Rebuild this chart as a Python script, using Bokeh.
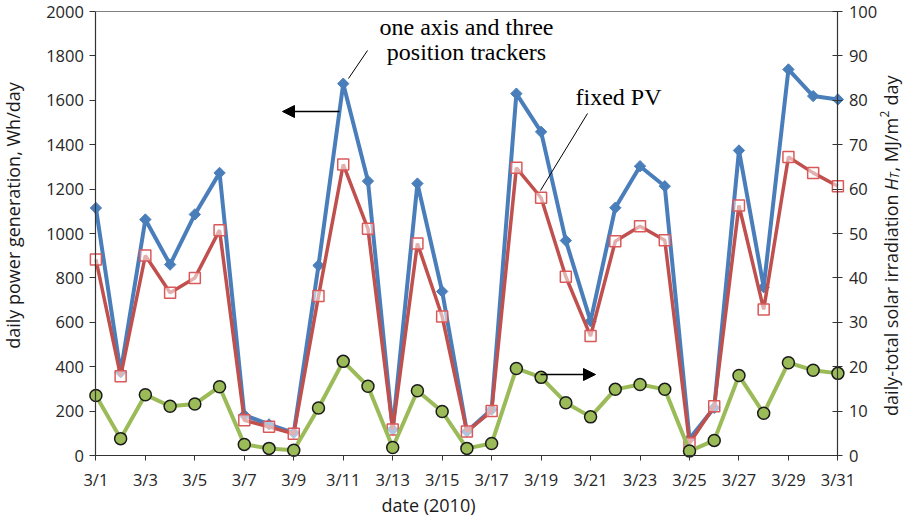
import math
from bokeh.plotting import figure
from bokeh.models import Range1d, LinearAxis, FixedTicker, Label, Arrow, NormalHead
from bokeh.embed import file_html
from bokeh.resources import INLINE

# ---------------- data ----------------
days = [1, 2, 3, 4, 5, 6, 7, 8, 9, 10, 11, 12, 13, 14, 15, 16,
        17, 18, 19, 20, 21, 22, 23, 24, 25, 26, 27, 28, 29, 30, 31]
trackers = [1115, 375, 1063, 860, 1086, 1273, 182, 140, 102, 856, 1675, 1236, 117, 1225, 739, 108,
            207, 1630, 1458, 968, 605, 1116, 1303, 1213, 75, 215, 1374, 758, 1739, 1619, 1604]
fixed_pv = [883, 357, 901, 733, 800, 1015, 159, 129, 98, 718, 1311, 1021, 117, 955, 626, 108,
            200, 1296, 1161, 805, 538, 965, 1033, 970, 55, 222, 1126, 658, 1345, 1273, 1213]
irradiation = [13.5, 3.8, 13.7, 11.1, 11.6, 15.5, 2.5, 1.6, 1.2, 10.7, 21.2, 15.6, 1.8, 14.6, 9.9, 1.6,
               2.7, 19.6, 17.6, 11.9, 8.7, 14.9, 16.0, 14.9, 1.0, 3.4, 18.0, 9.5, 20.9, 19.2, 18.5]
x_tick_days = [1, 3, 5, 7, 9, 11, 13, 15, 17, 19, 21, 23, 25, 27, 29, 31]
x_tick_labels = ["3/1", "3/3", "3/5", "3/7", "3/9", "3/11", "3/13", "3/15",
                 "3/17", "3/19", "3/21", "3/23", "3/25", "3/27", "3/29", "3/31"]
left_ticks = [0, 200, 400, 600, 800, 1000, 1200, 1400, 1600, 1800, 2000]
right_ticks = [0, 10, 20, 30, 40, 50, 60, 70, 80, 90, 100]

BLUE = "#4a7ebb"
RED = "#c0504d"
GREEN = "#9bbb59"
AXIS = "#333333"
TICK_FONT = "Open Sans"
TXT = "#1a1a1a"

# ---------------- geometry (page pixels of the plot area) ----------------
CW, CH = 904, 515
X1_PAGE, X31_PAGE = 103.4, 845.4
Y0_PAGE, Y2000_PAGE = 463.0, 19.0
PXD = (X31_PAGE - X1_PAGE) / (days[-1] - days[0])
PYU = (Y0_PAGE - Y2000_PAGE) / left_ticks[-1]


def dx(page_x):
    return days[0] + (page_x - X1_PAGE) / PXD


def dy(page_y):
    return (Y0_PAGE - page_y) / PYU


XMIN, XMAX = dx(8), dx(8 + CW)
YMIN, YMAX = dy(8 + CH), dy(8)
RSCALE = right_ticks[-1] / left_ticks[-1]

p = figure(frame_width=CW, frame_height=CH,
           x_range=Range1d(XMIN, XMAX), y_range=Range1d(YMIN, YMAX),
           output_backend="svg", toolbar_location=None,
           min_border_left=0, min_border_right=0, min_border_top=0, min_border_bottom=0,
           background_fill_color="white", border_fill_color="white")
p.title.visible = False
p.outline_line_color = None
p.grid.visible = False
p.extra_y_ranges = {"right": Range1d(YMIN * RSCALE, YMAX * RSCALE)}

TICK_SIZE = "16.5px"

# x axis
xa = p.xaxis[0]
xa.fixed_location = 0
xa.bounds = (days[0], days[-1])
xa.ticker = FixedTicker(ticks=x_tick_days)
xa.major_label_overrides = {d: s for d, s in zip(x_tick_days, x_tick_labels)}
xa.minor_tick_line_color = None
xa.major_tick_out = 5
xa.major_tick_in = 0
xa.axis_line_color = AXIS
xa.axis_line_width = 1.2
xa.major_tick_line_color = AXIS
xa.major_label_text_font = TICK_FONT
xa.major_label_text_font_size = TICK_SIZE
xa.major_label_text_color = "#262626"
xa.major_label_standoff = 7

# left axis
ya = p.yaxis[0]
ya.fixed_location = days[0]
ya.bounds = (left_ticks[0], left_ticks[-1])
ya.ticker = FixedTicker(ticks=left_ticks)
ya.minor_tick_line_color = None
ya.major_tick_out = 6
ya.major_tick_in = 0
ya.axis_line_color = AXIS
ya.axis_line_width = 1.2
ya.major_tick_line_color = AXIS
ya.major_label_text_font = TICK_FONT
ya.major_label_text_font_size = TICK_SIZE
ya.major_label_text_color = "#262626"
ya.major_label_standoff = 6

# right axis
ra = LinearAxis(y_range_name="right", fixed_location=days[-1],
                bounds=(right_ticks[0], right_ticks[-1]),
                ticker=FixedTicker(ticks=right_ticks))
ra.minor_tick_line_color = None
ra.major_tick_out = 5
ra.major_tick_in = 5
ra.axis_line_color = AXIS
ra.axis_line_width = 1.2
ra.major_tick_line_color = AXIS
ra.major_label_text_font = TICK_FONT
ra.major_label_text_font_size = TICK_SIZE
ra.major_label_text_color = "#262626"
ra.major_label_standoff = 6
p.add_layout(ra, "right")

# top border line
p.segment(x0=[days[0]], y0=[left_ticks[-1]], x1=[days[-1]], y1=[left_ticks[-1]],
          line_color="#808080", line_width=1.2)

# ---------------- series ----------------
p.line(days, trackers, line_color=BLUE, line_width=4)
p.scatter(days, trackers, marker="square", angle=math.pi / 4, size=8,
          fill_color=BLUE, line_color=BLUE)

p.line(days, fixed_pv, line_color=RED, line_width=3.5)
p.scatter(days, fixed_pv, marker="square", size=11, fill_color="white", fill_alpha=0.55,
          line_color="#d9595a", line_width=1.5)

p.line(days, irradiation, line_color=GREEN, line_width=4, y_range_name="right")
p.scatter(days, irradiation, marker="circle", size=12, fill_color=GREEN,
          line_color=TXT, line_width=1.5, y_range_name="right")

# ---------------- annotations ----------------
serif = "Liberation Serif"
p.add_layout(Label(x=dx(474), y=dy(34), text="one axis and three", text_font=serif,
                   text_font_size="24px", text_align="center", text_baseline="middle",
                   text_color="black"))
p.add_layout(Label(x=dx(474), y=dy(59), text="position trackers", text_font=serif,
                   text_font_size="24px", text_align="center", text_baseline="middle",
                   text_color="black"))
p.add_layout(Label(x=dx(583), y=dy(104), text="fixed PV", text_font=serif,
                   text_font_size="24px", text_align="left", text_baseline="middle",
                   text_color="black"))

p.add_layout(Arrow(end=None, x_start=dx(375), y_start=dy(58), x_end=dx(356), y_end=dy(86),
                   line_color="black", line_width=1))
p.add_layout(Arrow(end=None, x_start=dx(595), y_start=dy(121), x_end=dx(548), y_end=dy(198),
                   line_color="black", line_width=1))

p.add_layout(Arrow(end=NormalHead(size=12, fill_color="black", line_color="black"),
                   x_start=dx(347), y_start=dy(119), x_end=dx(290), y_end=dy(119),
                   line_color="black", line_width=1.5))
p.add_layout(Arrow(end=NormalHead(size=12, fill_color="black", line_color="black"),
                   x_start=dx(548), y_start=dy(382), x_end=dx(603), y_end=dy(382),
                   line_color="black", line_width=1.5))

# axis titles
p.add_layout(Label(x=dx(20), y=dy(223), text="daily power generation, Wh/day",
                   text_font=TICK_FONT, text_font_size="18px", angle=math.pi / 2,
                   text_align="center", text_baseline="middle", text_color=TXT))
p.add_layout(Label(x=dx(436), y=dy(512), text="date (2010)",
                   text_font=TICK_FONT, text_font_size="18px",
                   text_align="center", text_baseline="middle", text_color=TXT))

RX = 898
rot = math.pi / 2
p.add_layout(Label(x=dx(RX), y=dy(202), text="daily-total solar irradiation", angle=rot,
                   text_font=TICK_FONT, text_font_size="18px", text_align="right",
                   text_baseline="middle", text_color=TXT))
p.add_layout(Label(x=dx(RX), y=dy(198), text="H", angle=rot, text_font=TICK_FONT,
                   text_font_style="italic", text_font_size="18px", text_align="left",
                   text_baseline="middle", text_color=TXT))
p.add_layout(Label(x=dx(RX + 4), y=dy(186), text="T", angle=rot, text_font=TICK_FONT,
                   text_font_style="italic", text_font_size="12px", text_align="left",
                   text_baseline="middle", text_color=TXT))
p.add_layout(Label(x=dx(RX), y=dy(179), text=", MJ/m", angle=rot, text_font=TICK_FONT,
                   text_font_size="18px", text_align="left",
                   text_baseline="middle", text_color=TXT))
p.add_layout(Label(x=dx(RX - 6), y=dy(125), text="2", angle=rot, text_font=TICK_FONT,
                   text_font_size="12px", text_align="left",
                   text_baseline="middle", text_color=TXT))
p.add_layout(Label(x=dx(RX), y=dy(113), text="day", angle=rot, text_font=TICK_FONT,
                   text_font_size="18px", text_align="left",
                   text_baseline="middle", text_color=TXT))

open("out.html", "w").write(file_html(p, INLINE))
